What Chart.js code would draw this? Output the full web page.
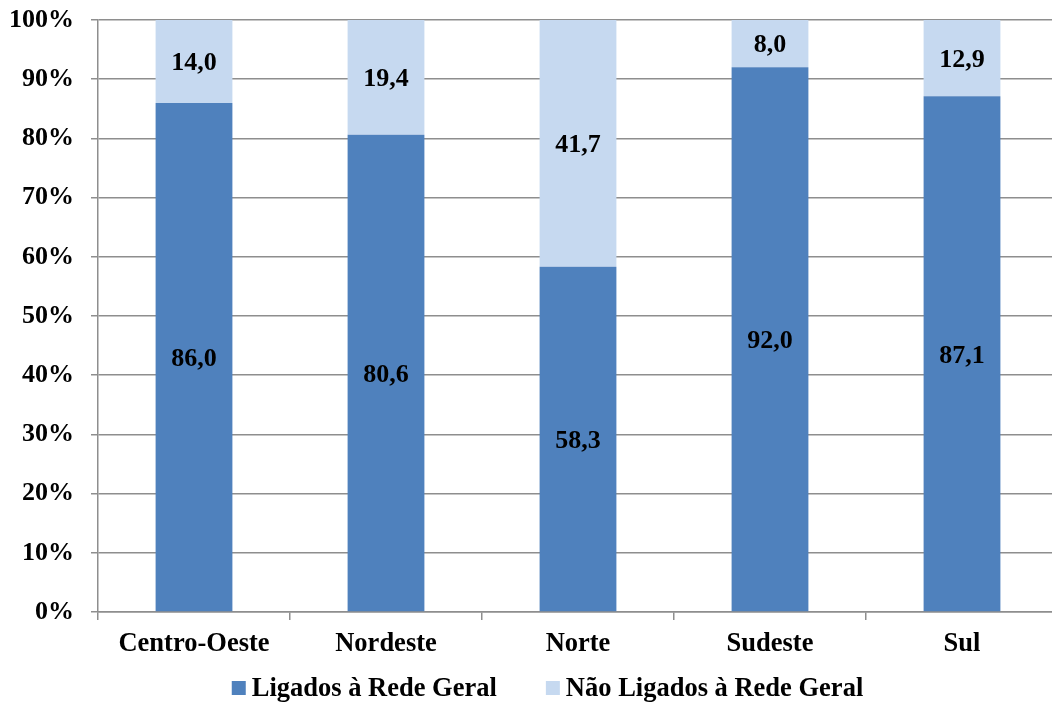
<!DOCTYPE html>
<html>
<head>
<meta charset="utf-8">
<script src="https://cdn.jsdelivr.net/npm/chart.js@4/dist/chart.umd.min.js"></script>
<style>
  html, body { margin: 0; padding: 0; background: #fff; overflow: hidden; }
  #wrap { width: 1062px; height: 702px; position: relative; }
</style>
</head>
<body>
<div id="wrap"><canvas id="c" width="1062" height="702"></canvas></div>
<script>
// Regiões e percentuais de domicílios ligados / não ligados à rede geral
const regioes = ['Centro-Oeste', 'Nordeste', 'Norte', 'Sudeste', 'Sul'];
const ligados = [86.0, 80.6, 58.3, 92.0, 87.1];
const naoLigados = [14.0, 19.4, 41.7, 8.0, 12.9];
const serieNomes = ['Ligados à Rede Geral', 'Não Ligados à Rede Geral'];

const FONT = '"Liberation Serif", "Times New Roman", serif';
const GRID = '#8e8e8e';

const fmt = v => v.toFixed(1).replace('.', ',');

// Values written in the middle of each stacked segment
const segmentLabels = {
  id: 'segmentLabels',
  afterDatasetsDraw(chart) {
    const ctx = chart.ctx;
    ctx.save();
    ctx.font = 'bold 26px ' + FONT;
    ctx.fillStyle = '#000';
    ctx.textAlign = 'center';
    ctx.textBaseline = 'middle';
    chart.data.datasets.forEach((ds, i) => {
      chart.getDatasetMeta(i).data.forEach((bar, j) => {
        const p = bar.getCenterPoint();
        ctx.fillText(fmt(ds.data[j]), p.x, p.y + 2);
      });
    });
    ctx.restore();
  }
};

// Legend row under the category labels
const bottomLegend = {
  id: 'bottomLegend',
  afterDraw(chart) {
    const ctx = chart.ctx;
    ctx.save();
    ctx.font = 'bold 26.5px ' + FONT;
    ctx.textBaseline = 'middle';
    ctx.textAlign = 'left';
    const box = 14, gap = 6, itemGap = 49;
    const items = chart.data.datasets.map(ds => ({
      text: ds.label, color: ds.backgroundColor,
      w: box + gap + ctx.measureText(ds.label).width
    }));
    const total = items.reduce((s, it) => s + it.w, 0) + itemGap * (items.length - 1);
    let x = 547.5 - total / 2;
    const y = 688;
    items.forEach(it => {
      ctx.fillStyle = it.color;
      ctx.fillRect(x, y - box / 2, box, box);
      ctx.fillStyle = '#000';
      ctx.fillText(it.text, x + box + gap, y + 1);
      x += it.w + itemGap;
    });
    ctx.restore();
  }
};

new Chart(document.getElementById('c'), {
  type: 'bar',
  data: {
    labels: regioes,
    datasets: [
      { label: serieNomes[0], data: ligados, backgroundColor: '#4f81bd' },
      { label: serieNomes[1], data: naoLigados, backgroundColor: '#c6d9f0' }
    ]
  },
  options: {
    responsive: false,
    animation: false,
    layout: { padding: { top: 20, right: 4, bottom: 0, left: 0 } },
    datasets: { bar: { categoryPercentage: 1.0, barPercentage: 0.4 } },
    plugins: { legend: { display: false }, tooltip: { enabled: false } },
    scales: {
      x: {
        stacked: true,
        grid: { display: true, drawOnChartArea: false, drawTicks: true, tickLength: 8, color: GRID, lineWidth: 1.5, offset: true },
        border: { display: true, color: GRID, width: 1.5 },
        ticks: { color: '#000', font: { family: FONT, size: 26.5, weight: 'bold' }, padding: 8, maxRotation: 0 },
        afterFit(s) { s.height = 90; s.paddingLeft = 0; s.paddingRight = 0; }
      },
      y: {
        stacked: true,
        min: 0, max: 100,
        grid: { color: GRID, lineWidth: 1.5, tickLength: 7 },
        border: { display: true, color: GRID, width: 1.5 },
        ticks: {
          stepSize: 10, color: '#000', padding: 17,
          font: { family: FONT, size: 26, weight: 'bold' },
          callback: v => v + '%'
        },
        afterFit(s) { s.width = 98; s.paddingTop = 0; s.paddingBottom = 0; }
      }
    }
  },
  plugins: [segmentLabels, bottomLegend]
});
</script>
</body>
</html>
